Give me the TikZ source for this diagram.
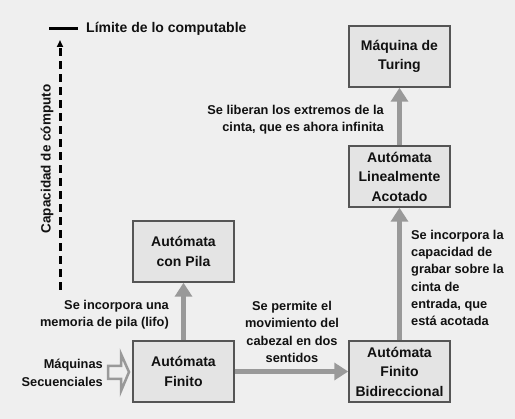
\documentclass[tikz,border=0pt]{standalone}
\usepackage{fontspec}
\setmainfont{Liberation Sans}
\usetikzlibrary{arrows.meta}
\definecolor{bg}{HTML}{EFEFEF}
\definecolor{boxfill}{HTML}{E4E4E4}
\definecolor{boxline}{HTML}{555555}
\definecolor{arrgray}{HTML}{999999}
\definecolor{txt}{HTML}{111111}
\begin{document}
\begin{tikzpicture}[x=1pt,y=-1pt,
  automaton/.style={draw=boxline,fill=boxfill,line width=1.5pt,minimum width=101pt,minimum height=61pt,inner sep=0pt,align=center,text=txt,font=\fontsize{14}{19.5}\selectfont\bfseries},
  lbl/.style={inner sep=0pt,text=txt,font=\fontsize{12.8}{17.3}\selectfont\bfseries},
  flow/.style={draw=arrgray,line width=5pt,-{Triangle[length=14pt,width=17pt]}}]
\fill[bg] (0,0) rectangle (515,419);
\useasboundingbox (0,0) rectangle (515,419);
% boxes
\node[automaton] (mt) at (399.5,56.5) {Máquina de\\Turing};
\node[automaton] (ala) at (399.5,176.5) {Autómata\\Linealmente\\Acotado};
\node[automaton] (ap) at (183.5,251.5) {Autómata\\con Pila};
\node[automaton] (af) at (183.5,371.5) {Autómata\\Finito};
\node[automaton] (afb) at (399.5,371.5) {Autómata\\Finito\\Bidireccional};
% connectors
\draw[flow] (af) -- (ap);
\draw[flow] (af) -- (afb);
\draw[flow] (afb) -- (ala);
\draw[flow] (ala) -- (mt);
% labels
\node[lbl,anchor=east,align=right] (llib) at (384,119.5) {Se liberan los extremos de la\\cinta, que es ahora infinita};
\node[lbl,anchor=east,align=right] (lpila) at (169,315) {Se incorpora una\\memoria de pila (lifo)};
\node[lbl,align=center] (lmov) at (292,332) {Se permite el\\movimiento del\\cabezal en dos\\sentidos};
\node[lbl,anchor=west,align=left] (lgrab) at (411,278) {Se incorpora la\\capacidad de\\grabar sobre la\\cinta de\\entrada, que\\está acotada};
\node[lbl,anchor=east,align=right] (lms) at (103,373) {Máquinas\\Secuenciales};
% open input arrow
\draw[arrgray,line width=2.5pt,line join=miter,fill=bg] (108,366) -- (121,366) -- (121,354) -- (129,372) -- (121,391) -- (121,379) -- (108,379) -- cycle;
% capacity axis
\coordinate (axbot) at (60,290);
\coordinate (axtop) at (60,40);
\draw[line width=3pt,dash pattern=on 8pt off 5pt,-{Triangle[length=7pt,width=6pt]}] (axbot) -- (axtop);
\coordinate (lima) at (49,29);
\coordinate (limb) at (78,29);
\draw[line width=3pt] (lima) -- (limb);
\node[inner sep=0pt,anchor=west,text=txt,font=\fontsize{14}{17}\selectfont\bfseries] (llim) at (86,29) {Límite de lo computable};
\node[inner sep=0pt,rotate=90,text=txt,font=\fontsize{13.5}{17}\selectfont\bfseries] (lcap) at (47,159) {Capacidad de cómputo};
\end{tikzpicture}
\end{document}
